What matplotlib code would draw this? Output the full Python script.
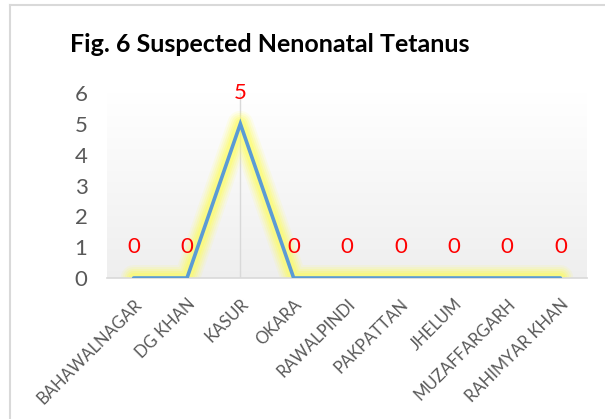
import matplotlib
matplotlib.use("Agg")
import matplotlib.pyplot as plt
import numpy as np
from matplotlib.lines import Line2D

categories = ["BAHAWALNAGAR", "DG KHAN", "KASUR", "OKARA", "RAWALPINDI",
              "PAKPATTAN", "JHELUM", "MUZAFFARGARH", "RAHIMYAR KHAN"]
values = [0, 0, 5, 0, 0, 0, 0, 0, 0]
yticks = [0, 1, 2, 3, 4, 5, 6]
title = "Fig. 6 Suspected Nenonatal Tetanus"

plt.rcParams['font.family'] = ['Lato', 'DejaVu Sans']

W, H = 605, 419
fig = plt.figure(figsize=(W / 100, H / 100), dpi=100)

# outer chart frame (cropped at right/bottom)
fig.add_artist(Line2D([10 / W, 1.0], [1 - 5 / H, 1 - 5 / H], transform=fig.transFigure,
                      color="#d9d9d9", lw=1.5))
fig.add_artist(Line2D([10 / W, 10 / W], [1 - 5 / H, 0.0], transform=fig.transFigure,
                      color="#d9d9d9", lw=1.5))

x0, x1, ytop, ybot = 107, 587, 93, 278
ax = fig.add_axes([x0 / W, 1 - ybot / H, (x1 - x0) / W, (ybot - ytop) / H])

x = np.arange(len(categories))
ax.set_xlim(-0.5, len(categories) - 0.5)
ax.set_ylim(0, 6)

# gradient background of plot area
grad = np.linspace(1.0, 0.935, 256).reshape(-1, 1)
ax.imshow(np.dstack([grad, grad, grad]), extent=[0, 1, 0, 1], transform=ax.transAxes,
          aspect='auto', zorder=0, interpolation='bilinear')

ax.axvline(2, color="#d9d9d9", lw=1, zorder=1)

# glow
for w, a in [(26, 0.10), (22, 0.14), (18, 0.18), (14, 0.24), (10, 0.3)]:
    ax.plot(x, values, color="#ffff50", lw=w * 0.72, alpha=a, solid_capstyle='round',
            solid_joinstyle='round', zorder=2)
ax.plot(x, values, color="#5b9bd5", lw=2.6, solid_capstyle='round',
        solid_joinstyle='miter', zorder=3)

for xi, v in zip(x, values):
    ax.annotate(str(v), (xi, v), xytext=(0, 22), textcoords='offset points',
                ha='center', va='center', color='#ff0000', fontsize=16, zorder=4)

for s in ['top', 'right', 'left']:
    ax.spines[s].set_visible(False)
ax.spines['bottom'].set_color('#d9d9d9')
ax.spines['bottom'].set_linewidth(1.2)

ax.set_yticks(yticks)
ax.set_yticklabels([str(t) for t in yticks], fontsize=16, color='#595959')
ax.tick_params(axis='y', length=0, pad=14)
ax.set_xticks(x)
ax.set_xticklabels(categories, rotation=45, ha='right', va='top', rotation_mode='anchor',
                   fontsize=12, color='#595959')
ax.tick_params(axis='x', length=0, pad=13)

fig.text(270 / W, 1 - 44 / H, title, ha='center', va='center', fontsize=18,
         fontweight='bold', color='#000000')

fig.savefig("out.png", dpi=100, facecolor='white')
